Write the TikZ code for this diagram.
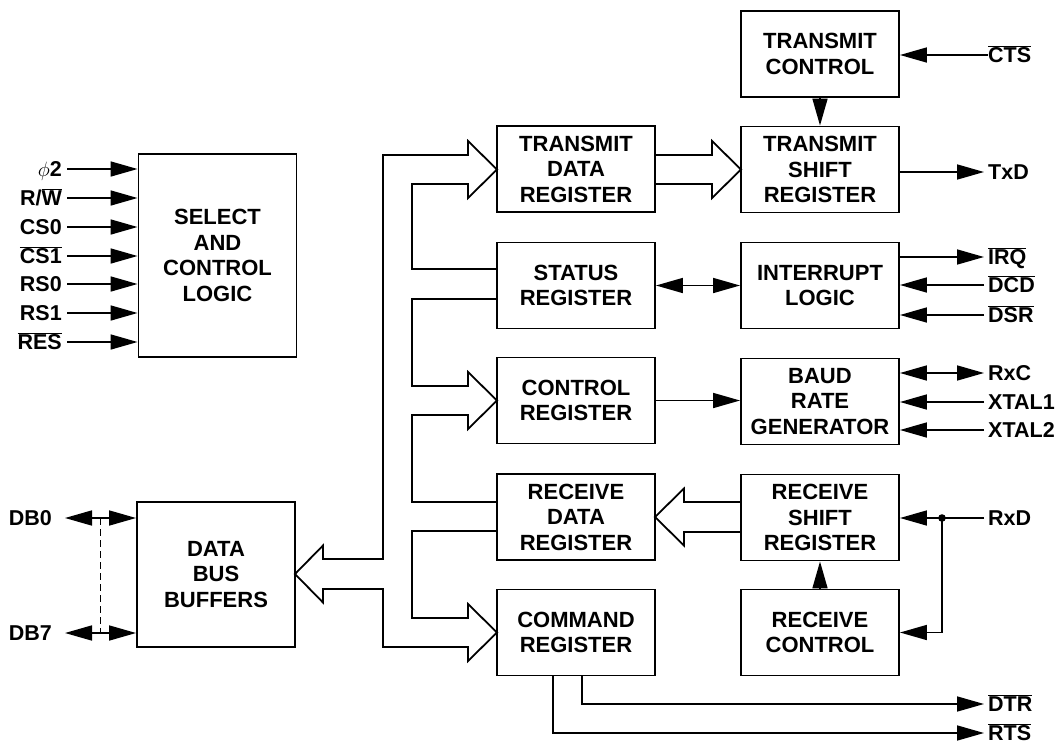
\documentclass[tikz,border=0pt]{standalone}
\usepackage{fontspec}
\setmainfont{Liberation Sans}
\usetikzlibrary{arrows.meta,calc}
\newcommand\ovl[1]{$\overline{\mbox{#1}}$}
\newcommand\acboxfont{\fontsize{22}{25.5}\selectfont\bfseries}
\newcommand\aclblfont{\fontsize{21.5}{25}\selectfont\bfseries}
\tikzset{
  box/.style={draw, line width=1.9pt, minimum width=158pt, minimum height=86pt,
    inner sep=0pt, align=center, font=\acboxfont},
  lbl/.style={font=\aclblfont, inner ysep=0pt, inner xsep=5pt, text height=15pt, text depth=0pt},
  rlbl/.style={lbl, anchor=west, inner xsep=4pt},
  llbl/.style={lbl, anchor=east},
  tip/.style={},
  arr/.style={line width=1.7pt, -{Triangle[length=27pt,width=15pt]}},
  darr/.style={line width=1.7pt, {Triangle[length=27pt,width=15pt]}-{Triangle[length=27pt,width=15pt]}},
  bus/.style={line width=1.8pt, line join=miter},
  dashline/.style={line width=0.8pt, dash pattern=on 7pt off 4pt}
}
\begin{document}
\begin{tikzpicture}[x=1pt,y=-1pt]
\useasboundingbox (0,0) rectangle (1061,745);

% blocks
\node[box, minimum height=203pt] (scl) at (217.5,255.5) {SELECT\\AND\\CONTROL\\LOGIC};
\node[box, minimum height=145pt] (dbb) at (216,574.5) {DATA\\BUS\\BUFFERS};
\node[box] (tdr) at (576,169) {TRANSMIT\\DATA\\REGISTER};
\node[box] (sr)  at (576,285.5) {STATUS\\REGISTER};
\node[box] (cr)  at (576,400.5) {CONTROL\\REGISTER};
\node[box] (rdr) at (576,517) {RECEIVE\\DATA\\REGISTER};
\node[box] (cmd) at (576,632.5) {COMMAND\\REGISTER};
\node[box] (tc)  at (820,54) {TRANSMIT\\CONTROL};
\node[box] (tsr) at (820,169.5) {TRANSMIT\\SHIFT\\REGISTER};
\node[box] (il)  at (820,285.5) {INTERRUPT\\LOGIC};
\node[box] (brg) at (820,401.5) {BAUD\\RATE\\GENERATOR};
\node[box] (rsr) at (820,517.5) {RECEIVE\\SHIFT\\REGISTER};
\node[box] (rc)  at (820,632.5) {RECEIVE\\CONTROL};

% left inputs
\node[llbl] (phi) at (67,169) {$\phi$2};
\node[llbl] (rw)  at (67,198) {R/\ovl{W}};
\node[llbl] (cs0) at (67,227) {CS0};
\node[llbl] (cs1) at (67,256) {\ovl{CS1}};
\node[llbl] (rs0) at (67,284) {RS0};
\node[llbl] (rs1) at (67,313) {RS1};
\node[llbl] (res) at (67,342) {\ovl{RES}};
\foreach \n in {phi,rw,cs0,cs1,rs0,rs1,res}
  \draw[arr] (\n.east) -- (\n.east -| scl.west);

% data bus pins
\node[llbl, inner xsep=13pt] (db0) at (65,518) {DB0};
\node[llbl, inner xsep=13pt] (db7) at (65,633) {DB7};
\draw[darr] (db0.east) -- (db0.east -| dbb.west);
\draw[darr] (db7.east) -- (db7.east -| dbb.west);
\draw[dashline] ([xshift=35pt]db0.east) -- ([xshift=35pt]db7.east);

% internal bus
\draw[bus] (497,269) -- (412,269) -- (412,184) -- (468,184) -- (468,198) -- (497,169.5)
  -- (468,141) -- (468,155) -- (383,155) -- (383,559) -- (323,559) -- (323,545.5)
  -- (295,574) -- (323,602.5) -- (323,589) -- (383,589) -- (383,647) -- (468,647)
  -- (468,661) -- (497,632.5) -- (468,604) -- (468,618) -- (412,618) -- (412,531) -- (497,531);
\draw[bus] (497,299) -- (412,299) -- (412,386) -- (468,386) -- (468,372) -- (497,400.5)
  -- (468,429) -- (468,415) -- (412,415) -- (412,502) -- (497,502);
\draw[bus] (655,155) -- (712,155) -- (712,141) -- (741,169.5) -- (712,198) -- (712,184) -- (655,184);
\draw[bus] (741,502) -- (684,502) -- (684,488.5) -- (655,517) -- (684,545.5) -- (684,532) -- (741,532);

% internal connections
\draw[arr] (tc.south) -- (tsr.north);
\draw[darr] (sr.east) -- (sr.east -| il.west);
\draw[arr] (cr.east) -- (cr.east -| brg.west);
\draw[arr] (rc.north) -- (rsr.south);

% right pins
\node[rlbl] (cts)  at (984,55)  {\ovl{CTS}};
\node[rlbl] (txd)  at (984,172) {TxD};
\node[rlbl] (irq)  at (984,257) {\ovl{IRQ}};
\node[rlbl] (dcd)  at (984,285) {\ovl{DCD}};
\node[rlbl] (dsr)  at (984,315) {\ovl{DSR}};
\node[rlbl] (rxc)  at (984,373) {RxC};
\node[rlbl] (xt1)  at (984,402) {XTAL1};
\node[rlbl] (xt2)  at (984,430) {XTAL2};
\node[rlbl] (rxd)  at (984,518) {RxD};
\node[rlbl] (dtr)  at (984,704) {\ovl{DTR}};
\node[rlbl] (rts)  at (984,733) {\ovl{RTS}};

\draw[arr] ([xshift=4pt]cts.west) -- (cts.west -| tc.east);
\draw[arr] (txd.west -| tsr.east) -- (txd.west);
\draw[arr] (irq.west -| il.east) -- (irq.west);
\draw[arr] (dcd.west) -- (dcd.west -| il.east);
\draw[arr] (dsr.west) -- (dsr.west -| il.east);
\draw[darr] (rxc.west -| brg.east) -- (rxc.west);
\draw[arr] (xt1.west) -- (xt1.west -| brg.east);
\draw[arr] (xt2.west) -- (xt2.west -| brg.east);
\draw[arr] (rxd.west) -- (rxd.west -| rsr.east);
\path (rxd.west) ++(-42,0) coordinate (j);
\fill (j) circle (3.8pt);
\draw[arr] (j) |- (rc.east);
\draw[arr] ([xshift=6pt]cmd.south) |- (dtr.west);
\draw[arr] ([xshift=-23pt]cmd.south) |- (rts.west);
\end{tikzpicture}
\end{document}
